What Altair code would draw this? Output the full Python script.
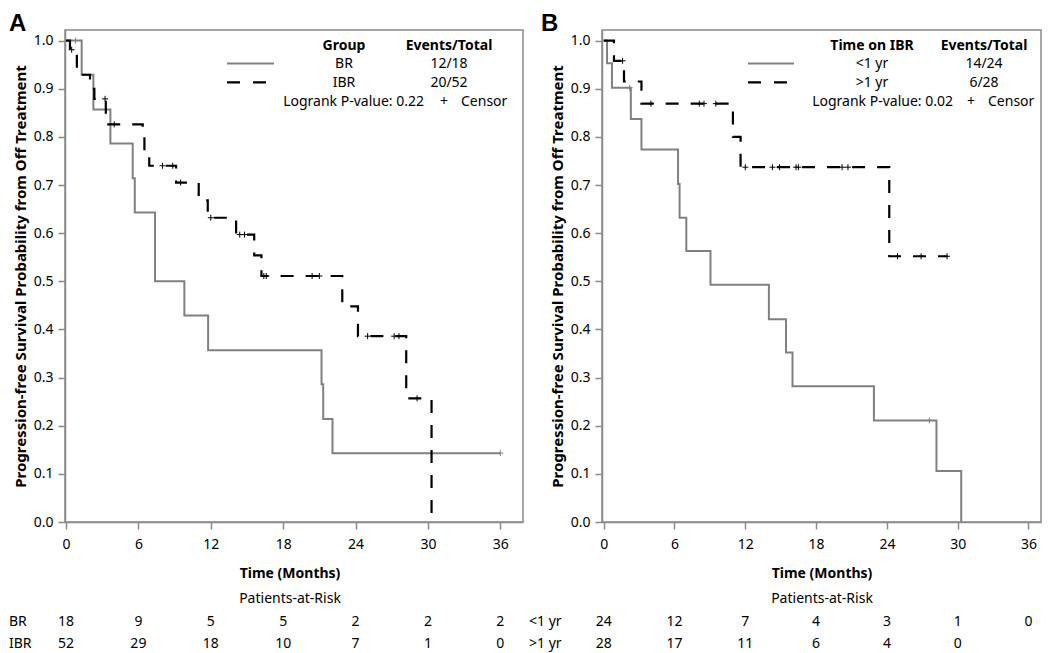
import altair as alt
import pandas as pd

FONT = "Noto Sans"
GRAY = "#808080"
FRAME = "#8a8a8a"

# ---------------- Panel A data ----------------
a_br_t = [0, 1.3, 2.27, 3.68, 5.53, 5.70, 7.38, 9.81, 11.78, 21.18, 21.32, 22.09, 36.0]
a_br_s = [1.0, 0.929, 0.857, 0.786, 0.714, 0.643, 0.500, 0.429, 0.357, 0.286, 0.214, 0.143, 0.143]
a_br_cens_t = [0.8, 36.0]
a_br_cens_s = [1.0, 0.143]

a_ibr_t = [0, 0.33, 0.9, 1.3, 1.99, 2.35, 3.3, 6.36, 6.5, 6.9, 9.13, 11.0, 11.75, 14.1, 15.6, 16.2, 22.9, 24.2, 28.2, 30.3]
a_ibr_s = [1.0, 0.981, 0.943, 0.929, 0.900, 0.879, 0.826, 0.800, 0.766, 0.740, 0.705, 0.668, 0.632, 0.597, 0.554, 0.511, 0.448, 0.386, 0.257, 0.0]
a_ibr_cens_t = [0.47, 3.24, 4.0, 8.0, 8.85, 9.5, 12.0, 14.4, 14.8, 16.4, 16.6, 20.4, 21.0, 25.0, 27.2, 27.6, 29.1]
a_ibr_cens_s = [0.981, 0.879, 0.826, 0.740, 0.740, 0.705, 0.632, 0.597, 0.597, 0.511, 0.511, 0.511, 0.511, 0.386, 0.386, 0.386, 0.257]

risk_times = [0, 6, 12, 18, 24, 30, 36]
a_risk_br = [18, 9, 5, 5, 2, 2, 2]
a_risk_ibr = [52, 29, 18, 10, 7, 1, 0]

# ---------------- Panel B data ----------------
b_lt_t = [0, 0.28, 0.70, 2.3, 3.2, 6.3, 6.43, 7.0, 9.05, 14.0, 15.45, 16.0, 22.9, 28.2, 30.3]
b_lt_s = [1.0, 0.953, 0.902, 0.837, 0.774, 0.702, 0.632, 0.563, 0.493, 0.421, 0.352, 0.282, 0.211, 0.106, 0.0]
b_lt_cens_t = [2.2, 27.6]
b_lt_cens_s = [0.902, 0.211]

b_gt_t = [0, 0.87, 1.72, 3.2, 10.95, 11.6, 24.2, 29.1]
b_gt_s = [1.0, 0.958, 0.915, 0.869, 0.800, 0.737, 0.552, 0.552]
b_gt_cens_t = [1.6, 4.0, 8.1, 8.5, 9.5, 12.0, 14.3, 14.9, 16.3, 16.5, 20.2, 20.7, 24.9, 26.9, 29.1]
b_gt_cens_s = [0.958, 0.869, 0.869, 0.869, 0.869, 0.737, 0.737, 0.737, 0.737, 0.737, 0.737, 0.737, 0.552, 0.552, 0.552]

b_risk_times_lt = [0, 6, 12, 18, 24, 30, 36]
b_risk_lt = [24, 12, 7, 4, 3, 1, 0]
b_risk_times_gt = [0, 6, 12, 18, 24, 30]
b_risk_gt = [28, 17, 11, 6, 4, 0]

x_ticks = [0, 6, 12, 18, 24, 30, 36]
y_ticks = [0.0, 0.1, 0.2, 0.3, 0.4, 0.5, 0.6, 0.7, 0.8, 0.9, 1.0]
Y_TITLE = "Progression-free Survival Probability from Off Treatment"

H = 492
FS = 14
DUMMY = pd.DataFrame({"d": [0]})
CROSS = "M-1,0H1M0,-1V1"


def txt(s, x, y, align="center", bold=False, size=FS, baseline="middle", font=FONT):
    return alt.Chart(DUMMY).mark_text(
        text=s, align=align, baseline=baseline, fontSize=size,
        fontWeight="bold" if bold else "normal", font=font, color="black"
    ).encode(x=alt.value(x), y=alt.value(y))


def panel(width, xdomain, curves, risk_rows, legend, letter, letter_x, label_x, title_x):
    X = alt.X("t:Q", scale=alt.Scale(domain=xdomain, nice=False, zero=False),
              axis=alt.Axis(values=x_ticks, title=None))
    Y = alt.Y("s:Q", scale=alt.Scale(domain=[0, 1.022], nice=False, zero=False),
              axis=alt.Axis(values=y_ticks, format=".1f", title=Y_TITLE))
    layers = []
    for t, s, ct, cs, color, dash, width_ in curves:
        df = pd.DataFrame({"t": t, "s": s})
        mk = dict(interpolate="step-after", color=color, strokeWidth=width_)
        if dash:
            mk["strokeDash"] = dash
        layers.append(alt.Chart(df).mark_line(**mk).encode(x=X, y=Y))
        cdf = pd.DataFrame({"t": ct, "s": cs})
        layers.append(alt.Chart(cdf).mark_point(shape=CROSS, filled=False, size=36,
                                                strokeWidth=1, color=color, opacity=1)
                      .encode(x=X, y=Y))
    # at-risk table
    for name, times, counts, yrow in risk_rows:
        rdf = pd.DataFrame({"t": times, "n": counts})
        layers.append(alt.Chart(rdf).mark_text(fontSize=FS, font=FONT, color="black",
                                               baseline="middle")
                      .encode(x=X, text="n:Q", y=alt.value(yrow)))
        layers.append(txt(name, label_x, yrow, align="left"))
    layers.append(txt("Time (Months)", title_x, 544, bold=True))
    layers.append(txt("Patients-at-Risk", title_x, 569))
    layers.append(txt(letter, letter_x, -18, align="left", bold=True, size=24,
                      baseline="top", font="Liberation Sans"))
    # legend
    lx0, lx1 = legend["line_x"]
    layers.append(alt.Chart(DUMMY).mark_rule(color=GRAY, strokeWidth=2)
                  .encode(x=alt.value(lx0), x2=alt.value(lx1), y=alt.value(33.4)))
    layers.append(alt.Chart(DUMMY).mark_rule(color="black", strokeWidth=2.2, strokeDash=[13, 13])
                  .encode(x=alt.value(lx0), x2=alt.value(lx1 - 7), y=alt.value(52.4)))
    gx, ex = legend["gx"], legend["ex"]
    layers.append(txt(legend["head"], gx, 15.7, bold=True))
    layers.append(txt("Events/Total", ex, 15.7, bold=True))
    layers.append(txt(legend["names"][0], gx, 34))
    layers.append(txt(legend["names"][1], gx, 53))
    layers.append(txt(legend["ev"][0], ex, 34))
    layers.append(txt(legend["ev"][1], ex, 53))
    layers.append(txt(legend["pval"], legend["px"], 71.7, align="right"))
    layers.append(txt("+", legend["plus"], 71.7))
    layers.append(txt("Censor", legend["plus"] + 17, 71.7, align="left"))
    return alt.layer(*layers).properties(width=width, height=H)


panel_a = panel(
    458, [-0.083, 37.88],
    [(a_br_t, a_br_s, a_br_cens_t, a_br_cens_s, GRAY, None, 2),
     (a_ibr_t, a_ibr_s, a_ibr_cens_t, a_ibr_cens_s, "black", [13, 12], 2.2)],
    [("BR", risk_times, a_risk_br, 592.4), ("IBR", risk_times, a_risk_ibr, 614)],
    dict(line_x=(162, 209), gx=279, ex=384, head="Group", names=["BR", "IBR"],
         ev=["12/18", "20/52"], pval="Logrank P-value: 0.22", px=359, plus=379),
    "A", -56, -56, 225,
)

panel_b = panel(
    439, [-0.144, 37.06],
    [(b_lt_t, b_lt_s, b_lt_cens_t, b_lt_cens_s, GRAY, None, 2),
     (b_gt_t, b_gt_s, b_gt_cens_t, b_gt_cens_s, "black", [13, 12], 2.2)],
    [("<1 yr", b_risk_times_lt, b_risk_lt, 592.4), (">1 yr", b_risk_times_gt, b_risk_gt, 614)],
    dict(line_x=(146, 192), gx=270, ex=382, head="Time on IBR", names=["<1 yr", ">1 yr"],
         ev=["14/24", "6/28"], pval="Logrank P-value: 0.02", px=351, plus=369),
    "B", -61, -73, 220,
)

chart = alt.hconcat(panel_a, panel_b, spacing=79, bounds="flush").properties(
    padding={"left": 0, "top": 3, "right": 0, "bottom": 0}
).configure_view(
    stroke=FRAME, strokeWidth=1.5
).configure_axis(
    grid=False, domainColor=FRAME, domainWidth=1.5, tickColor=FRAME, tickWidth=1.5,
    tickSize=7, labelFont=FONT, labelFontSize=14, labelColor="black", labelPadding=5,
    titleFont=FONT, titleFontSize=15, titleFontWeight="bold", titleColor="black",
    titlePadding=5
).configure_axisX(labelPadding=8)

chart.save("out.html", embed_options={"renderer": "svg", "actions": False})
